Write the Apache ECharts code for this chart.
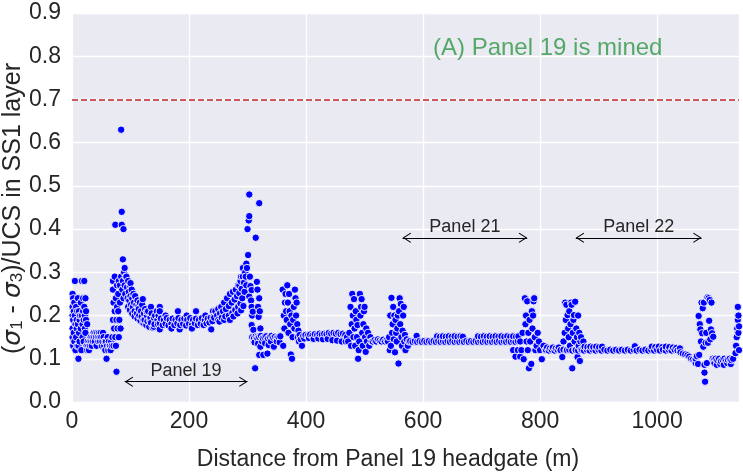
<!DOCTYPE html>
<html>
<head>
<meta charset="utf-8">
<script src="https://cdn.jsdelivr.net/npm/echarts@6/dist/echarts.min.js"></script>
<style>
  html, body { margin: 0; padding: 0; background: #ffffff; }
  #chart { width: 743px; height: 476px; }
</style>
</head>
<body>
<div id="chart"></div>
<script>
// Stress ratio (sigma1 - sigma3)/UCS in the SS1 layer versus distance from the
// Panel 19 headgate, stored as [distance m, ratio] pairs for each stretch of the profile.

// 0-68 m: headgate side of Panel 19
const westFlank = [
  [1,0.25],[1,0.22],[1,0.2],[1,0.17],[1,0.15],[2,0.13],
  [2,0.24],[2,0.19],[3,0.21],[3,0.16],[4,0.23],[4,0.14],
  [5,0.28],[5,0.2],[6,0.18],[6,0.12],[7,0.22],[7,0.15],
  [8,0.19],[8,0.17],[9,0.21],[9,0.13],[10,0.24],[10,0.18],
  [11,0.1],[11,0.13],[12,0.21],[12,0.16],[13,0.19],[13,0.14],
  [14,0.2],[15,0.23],[15,0.17],[16,0.12],[17,0.28],[17,0.2],
  [18,0.18],[18,0.15],[19,0.24],[19,0.21],[20,0.19],[20,0.14],
  [21,0.28],[21,0.22],[22,0.17],[22,0.2],[23,0.24],[23,0.16],
  [24,0.21],[24,0.19],[25,0.13],[26,0.18],[26,0.12],
  [27,0.14],[28,0.13],[29,0.12],[30,0.14],[31,0.13],[32,0.15],[33,0.14],[34,0.13],
  [35,0.15],[36,0.14],[37,0.16],[38,0.15],[39,0.14],[40,0.16],[41,0.15],[42,0.13],
  [43,0.16],[44,0.15],[45,0.14],[46,0.16],[47,0.15],[48,0.14],[49,0.16],[50,0.15],
  [51,0.13],[52,0.14],[53,0.16],[54,0.15],[55,0.13],[56,0.14],[57,0.12],[58,0.14],
  [59,0.1],[60,0.13],[61,0.15],[62,0.12],[63,0.14],[64,0.13],[65,0.13],[66,0.12],
  [67,0.14],[68,0.13]
];

// 69-92 m: abutment peak at the start of Panel 19
const startPeak = [
  [69,0.15],[70,0.28],[70,0.26],[70,0.19],[71,0.23],[71,0.13],[72,0.17],[73,0.29],
  [73,0.21],[74,0.41],[74,0.15],[75,0.24],[75,0.13],[76,0.07],[76,0.19],[77,0.27],
  [77,0.22],[78,0.17],[79,0.25],[79,0.21],[80,0.15],[80,0.28],[81,0.19],[82,0.27],
  [82,0.23],[83,0.17],[84,0.63],[84,0.29],[85,0.44],[85,0.41],[86,0.26],[87,0.33],
  [87,0.28],[88,0.4],[88,0.24],[89,0.3],[90,0.31],[90,0.27],[91,0.25],[92,0.29]
];

// 93-150 m: relaxation behind the first abutment
const panel19Decay = [
  [93,0.29],[96,0.28],[99,0.27],[102,0.26],[105,0.25],[108,0.245],[112,0.235],[116,0.23],
  [120,0.225],[125,0.215],[130,0.21],[136,0.205],[142,0.2],[148,0.2],
  [94,0.265],[97,0.255],[100,0.245],[103,0.24],[106,0.23],[110,0.225],[114,0.215],[118,0.21],
  [123,0.205],[128,0.2],[134,0.195],[140,0.195],[146,0.19],
  [95,0.24],[98,0.235],[101,0.225],[104,0.22],[107,0.21],[111,0.205],[115,0.2],[119,0.197],
  [124,0.19],[129,0.187],[135,0.183],[141,0.18],[147,0.18],
  [96,0.22],[99,0.213],[103,0.205],[107,0.198],[112,0.193],[117,0.188],[122,0.183],[127,0.178],
  [132,0.174],[138,0.172],
  [100,0.275],[113,0.22],[121,0.238],[128,0.209],[135,0.22],[133,0.19],[122,0.19],[140,0.174],
  [145,0.21],[150,0.22]
];

// 150-245 m: mid-panel floor
const panel19Floor = [
  [152,0.193],[157,0.19],[162,0.194],[167,0.19],[172,0.193],[177,0.19],[182,0.194],[187,0.19],
  [192,0.193],[197,0.19],[202,0.194],[207,0.19],[212,0.193],[217,0.19],[222,0.194],[227,0.19],
  [232,0.193],[237,0.195],[242,0.198],
  [150,0.182],[155,0.178],[160,0.181],[165,0.177],[170,0.181],[175,0.178],[180,0.182],[185,0.178],
  [190,0.181],[195,0.177],[200,0.181],[205,0.178],[210,0.182],[215,0.178],[220,0.181],[225,0.178],
  [230,0.182],[235,0.184],[240,0.187],
  [150,0.21],[181,0.21],[212,0.21],[241,0.21],[150,0.168],[184,0.168],[238,0.168],
  [160,0.2],[196,0.2],[228,0.2],[170,0.17],[205,0.17]
];

// 243-299 m: build-up towards the tailgate abutment
const panel19Rise = [
  [245,0.21],[250,0.215],[255,0.22],[260,0.23],[265,0.24],[270,0.25],[275,0.255],[280,0.26],
  [284,0.27],[288,0.28],[292,0.29],[296,0.3],[299,0.31],
  [248,0.2],[253,0.205],[258,0.21],[263,0.215],[268,0.222],[273,0.23],[278,0.237],[282,0.245],
  [286,0.252],[290,0.262],[294,0.276],[297,0.29],
  [250,0.19],[256,0.195],[262,0.198],[268,0.2],[274,0.206],[279,0.213],[284,0.22],[288,0.228],
  [291,0.24],[295,0.255],[298,0.27],
  [243,0.195],[252,0.186],[260,0.19],[270,0.19],[276,0.198],[283,0.205],[289,0.212],[293,0.222],
  [286,0.27],[289,0.29],[292,0.31]
];

// 298-322 m: abutment peak at the end of Panel 19
const endPeak = [
  [298,0.32],[300,0.4],[301,0.34],[302,0.42],[303,0.48],[303,0.43],[303,0.244],[304,0.29],
  [305,0.268],[306,0.235],[307,0.259],[307,0.22],[307,0.178],[308,0.2],[309,0.209],[310,0.167],
  [311,0.14],[313,0.078],[314,0.38],[316,0.278],[317,0.26],[317,0.151],[318,0.22],[319,0.197],
  [320,0.46],[320,0.24],[321,0.21],[322,0.17]
];

// 307-358 m: pillar between Panel 19 and Panel 20
const pillarBandA = [
  [308,0.15],[311,0.148],[314,0.152],[317,0.147],[320,0.15],[323,0.153],[326,0.148],[329,0.15],
  [332,0.152],[335,0.147],[338,0.15],[341,0.153],[344,0.149],[347,0.151],[350,0.148],[353,0.15],
  [356,0.152],
  [312,0.138],[318,0.135],[322,0.128],[325,0.14],[330,0.136],[336,0.132],[340,0.14],[345,0.128],
  [350,0.14],[355,0.138],
  [320,0.109],[327,0.109],[334,0.112]
];

// 358-393 m
const cluster370 = [
  [360,0.26],[361,0.13],[362,0.2],[363,0.17],[364,0.23],[365,0.25],[366,0.21],[367,0.19],
  [368,0.27],[369,0.23],[370,0.16],[371,0.25],[372,0.21],[373,0.18],[374,0.11],[375,0.2],
  [376,0.1],[377,0.15],[378,0.19],[379,0.22],[380,0.17],[381,0.26],[382,0.24],[383,0.2],
  [384,0.23],[385,0.18],[386,0.15],[387,0.165],[388,0.14],[389,0.155],[391,0.145],[393,0.13]
];

// 393-470 m
const pillarBandB = [
  [395,0.152],[399,0.155],[403,0.153],[407,0.156],[411,0.154],[415,0.157],[419,0.155],[423,0.158],
  [427,0.156],[431,0.158],[435,0.157],[439,0.16],[443,0.158],[447,0.16],[451,0.158],[455,0.16],
  [459,0.157],[463,0.158],[467,0.155],
  [397,0.147],[405,0.148],[413,0.146],[421,0.147],[429,0.145],[437,0.146],[445,0.143],[453,0.142],
  [461,0.14],[468,0.14]
];

// 470-512 m
const cluster490 = [
  [470,0.15],[472,0.14],[474,0.16],[476,0.22],[477,0.13],[478,0.18],[479,0.25],[480,0.2],
  [481,0.15],[482,0.238],[483,0.17],[484,0.13],[485,0.21],[486,0.19],[487,0.15],[488,0.178],
  [489,0.1],[490,0.12],[491,0.14],[492,0.25],[493,0.2],[494,0.22],[495,0.238],[496,0.16],
  [497,0.13],[498,0.18],[499,0.21],[500,0.22],[501,0.15],[502,0.116],[503,0.17],[504,0.14],
  [506,0.16],[508,0.13],[510,0.15],[512,0.14]
];

// 514-538 m
const pillarBandC = [
  [514,0.14],[517,0.143],[520,0.14],[523,0.145],[526,0.142],[529,0.14],[532,0.144],[535,0.14],
  [538,0.143]
];

// 540-576 m
const cluster555 = [
  [540,0.14],[542,0.15],[543,0.12],[544,0.2],[545,0.13],[546,0.241],[547,0.16],[548,0.18],
  [549,0.22],[550,0.145],[551,0.2],[552,0.115],[553,0.19],[554,0.16],[555,0.14],[556,0.17],
  [557,0.2],[558,0.089],[559,0.21],[560,0.24],[561,0.18],[562,0.227],[563,0.15],[564,0.13],
  [565,0.165],[566,0.2],[567,0.22],[568,0.14],[569,0.155],[570,0.12],[572,0.145],[574,0.13],
  [576,0.14]
];

// 578-766 m: beneath Panel 21
const panel21Band = [
  [578,0.141],[582,0.139],[586,0.141],[590,0.139],[594,0.141],[598,0.139],[602,0.141],[606,0.139],
  [610,0.141],[614,0.139],[618,0.141],[622,0.139],[626,0.141],[630,0.139],[634,0.141],[638,0.139],
  [642,0.141],[646,0.139],[650,0.141],[654,0.139],[658,0.141],[662,0.139],[666,0.141],[670,0.139],
  [674,0.141],[678,0.139],[682,0.141],[686,0.139],[690,0.141],[694,0.139],[698,0.141],[702,0.139],
  [706,0.141],[710,0.139],[714,0.141],[718,0.139],[722,0.141],[726,0.139],[730,0.141],[734,0.139],
  [738,0.141],[742,0.139],[746,0.141],[750,0.139],[754,0.141],[758,0.139],[762,0.141],
  [589,0.153],[624,0.152],[629,0.151],[634,0.152],[639,0.151],[644,0.152],[649,0.151],[654,0.152],
  [659,0.151],[664,0.152],[668,0.151],[694,0.152],[699,0.151],[704,0.152],[709,0.151],[714,0.152],
  [719,0.151],[724,0.152],[729,0.151],[734,0.152],[739,0.151],[744,0.152],[749,0.151],[754,0.152],
  [759,0.151],[763,0.152]
];

// 766-809 m
const cluster785 = [
  [766,0.14],[768,0.12],[770,0.16],[772,0.099],[774,0.24],[775,0.18],[776,0.2],[777,0.14],
  [778,0.233],[779,0.12],[780,0.16],[781,0.078],[782,0.19],[783,0.14],[785,0.088],[786,0.21],
  [787,0.17],[788,0.2],[789,0.233],[790,0.24],[791,0.15],[792,0.12],[794,0.13],[796,0.16],
  [798,0.14],[800,0.12],[803,0.099],[806,0.13],[809,0.12]
];

// 754-1039 m: lower band beneath Panel 22
const panel22Band = [
  [754,0.12],[758,0.105],[762,0.12],[766,0.105],
  [810,0.121],[815,0.119],[820,0.121],[825,0.119],[830,0.121],[835,0.119],[840,0.121],[845,0.119],
  [850,0.121],[855,0.119],[860,0.121],[865,0.119],[870,0.121],[875,0.119],[880,0.121],[885,0.119],
  [890,0.121],[895,0.119],[900,0.121],[905,0.119],[910,0.121],[915,0.119],[920,0.121],[925,0.119],
  [930,0.121],[935,0.119],[940,0.121],[945,0.119],[950,0.121],[955,0.119],[960,0.121],[965,0.119],
  [970,0.121],[975,0.119],[980,0.121],[985,0.119],[990,0.121],[995,0.119],[1000,0.121],[1005,0.119],
  [1010,0.121],[1015,0.119],[1020,0.121],[1025,0.119],[1030,0.121],[1035,0.119],[1039,0.118],
  [812,0.126],[817,0.124],[822,0.126],[827,0.124],[832,0.126],
  [876,0.128],[881,0.127],[886,0.128],[891,0.127],[896,0.128],[901,0.127],[906,0.128],
  [962,0.129],
  [991,0.128],[997,0.127],[1003,0.128],[1009,0.127],[1015,0.128],[1021,0.127],[1027,0.126],
  [1033,0.125],[1039,0.124]
];

// 835-874 m
const cluster855 = [
  [835,0.12],[838,0.104],[840,0.14],[842,0.16],[843,0.23],[844,0.19],[845,0.225],[846,0.12],
  [847,0.201],[848,0.17],[849,0.15],[850,0.21],[851,0.13],[852,0.18],[853,0.23],[854,0.225],
  [855,0.078],[856,0.16],[857,0.19],[858,0.201],[859,0.14],[860,0.232],[861,0.12],[862,0.17],
  [863,0.15],[864,0.104],[865,0.2],[866,0.13],[867,0.16],[868,0.095],[869,0.14],[870,0.15],
  [872,0.12],[874,0.14]
];

// 1040-1066 m
const panel22Decline = [
  [1040,0.115],[1044,0.112],[1048,0.11],[1052,0.108],[1055,0.105],[1058,0.1],[1061,0.098],
  [1064,0.095],[1066,0.09]
];

// 1066-1098 m
const cluster1085 = [
  [1066,0.1],[1068,0.106],[1070,0.088],[1071,0.199],[1072,0.109],[1073,0.18],[1074,0.168],
  [1075,0.14],[1076,0.23],[1077,0.159],[1078,0.217],[1079,0.128],[1080,0.23],[1081,0.086],
  [1081,0.068],[1082,0.047],[1083,0.137],[1084,0.16],[1085,0.09],[1086,0.242],[1087,0.137],
  [1088,0.24],[1089,0.188],[1090,0.236],[1091,0.145],[1092,0.168],[1093,0.23],[1094,0.159],
  [1095,0.1],[1096,0.151],[1097,0.097],[1098,0.09]
];

// 1100-1140 m
const eastEnd = [
  [1100,0.1],[1103,0.097],[1106,0.1],[1109,0.095],[1112,0.098],[1115,0.1],[1118,0.096],
  [1121,0.098],[1124,0.1],[1127,0.097],[1130,0.1],
  [1102,0.086],[1108,0.088],[1114,0.086],[1120,0.09],[1126,0.088],
  [1134,0.113],[1135,0.13],[1136,0.15],[1137,0.17],[1138,0.19],[1138,0.22],[1139,0.2],
  [1139,0.16],[1140,0.12],[1140,0.175]
];

// Axis ticks and annotations
const xTicks = [0, 200, 400, 600, 800, 1000];
const xMax = 1140;
const yTicks = [0, 0.1, 0.2, 0.3, 0.4, 0.5, 0.6, 0.7, 0.8, 0.9];
const thresholdRatio = 0.7;
const panelSpans = [
  { name: 'Panel 19', from: 90, to: 300, level: 0.047 },
  { name: 'Panel 21', from: 565, to: 778, level: 0.38 },
  { name: 'Panel 22', from: 861, to: 1076, level: 0.38 }
];
const stageNote = { text: '(A) Panel 19 is mined', at: [617, 0.818] };

const samples = [].concat(
  westFlank, startPeak, panel19Decay, panel19Floor, panel19Rise, endPeak,
  pillarBandA, cluster370, pillarBandB, cluster490, pillarBandC, cluster555,
  panel21Band, cluster785, panel22Band, cluster855, panel22Decline, cluster1085, eastEnd
).sort((a, b) => a[0] - b[0]);

const FONT = '"Liberation Sans", Arial, Helvetica, sans-serif';
const INK = '#262626';

// Open double-headed arrow tip, pointing up; the empty point above the tip
// centres the symbol on the tip so the head ends exactly at the span end.
const ARROW_HEAD = 'path://M5,-8.6 L5.01,-8.6 L5,-8.59 Z M5,0 L10,8 L9.2,8.6 L5,1.9 L0.8,8.6 L0,8 Z';

const chart = echarts.init(document.getElementById('chart'), null, { renderer: 'canvas' });

chart.setOption({
  animation: false,
  backgroundColor: '#ffffff',
  textStyle: { fontFamily: FONT },
  grid: {
    left: 72, right: 4, top: 13, bottom: 74,
    show: true, backgroundColor: '#EAEAF2', borderWidth: 0,
    containLabel: false, outerBoundsMode: 'none'
  },
  xAxis: {
    type: 'value', min: 0, max: xMax, interval: 200,
    axisLine: { show: false }, axisTick: { show: false },
    splitLine: { show: true, lineStyle: { color: '#ffffff', width: 1.3 } },
    axisLabel: {
      fontSize: 23, color: INK, margin: 8, fontFamily: FONT,
      formatter: v => (xTicks.indexOf(v) >= 0 ? String(v) : '')
    },
    name: 'Distance from Panel 19 headgate (m)',
    nameLocation: 'middle', nameGap: 46, nameMoveOverlap: false,
    nameTextStyle: { fontSize: 23, color: INK, fontFamily: FONT, padding: [0, 35, 0, 0] }
  },
  yAxis: {
    type: 'value', min: yTicks[0], max: yTicks[yTicks.length - 1], interval: 0.1,
    axisLine: { show: false }, axisTick: { show: false },
    splitLine: { show: true, lineStyle: { color: '#ffffff', width: 1.3 } },
    axisLabel: {
      fontSize: 23, color: INK, margin: 11, fontFamily: FONT,
      formatter: v => v.toFixed(1)
    },
    name: '({sg|σ}{sb|1} - {sg|σ}{sb|3})/UCS in SS1 layer',
    nameLocation: 'middle', nameGap: 46, nameMoveOverlap: false,
    nameTextStyle: {
      fontSize: 25, color: INK, fontFamily: FONT, padding: [0, 2, 0, 0],
      rich: {
        sg: { fontSize: 25, color: INK, fontFamily: 'DejaVu Sans', fontStyle: 'italic' },
        sb: { fontSize: 17, color: INK, fontFamily: FONT, verticalAlign: 'bottom' }
      }
    }
  },
  series: [
    {
      name: 'stress ratio',
      type: 'scatter',
      data: samples,
      symbol: 'circle',
      symbolSize: 7.4,
      itemStyle: { color: '#0000FF', borderColor: '#ffffff', borderWidth: 0.9, opacity: 1 },
      emphasis: { disabled: true },
      silent: true,
      z: 3
    },
    {
      name: 'threshold',
      type: 'scatter',
      data: [],
      silent: true,
      markLine: {
        silent: true,
        symbol: ['none', 'none'],
        label: { show: false },
        lineStyle: { color: '#CC5A5C', width: 2, type: [6, 3], opacity: 1 },
        emphasis: { disabled: true },
        data: [{ yAxis: thresholdRatio }]
      },
      markPoint: {
        silent: true,
        symbol: 'circle',
        symbolSize: 0,
        itemStyle: { color: 'rgba(0,0,0,0)' },
        label: {
          show: true, position: 'right', distance: 0,
          color: '#55A868', fontSize: 24, fontFamily: FONT,
          formatter: () => stageNote.text
        },
        data: [{ coord: stageNote.at }]
      }
    },
    {
      name: 'panels',
      type: 'scatter',
      data: [],
      silent: true,
      markLine: {
        silent: true,
        symbol: [ARROW_HEAD, ARROW_HEAD],
        symbolSize: [10, 17],
        lineStyle: { color: '#000000', width: 1.2, type: 'solid', opacity: 1 },
        itemStyle: { color: '#000000' },
        emphasis: { disabled: true },
        label: {
          show: true, position: 'middle', distance: 2,
          color: INK, fontSize: 18, fontFamily: FONT,
          formatter: p => p.name
        },
        data: panelSpans.map(s => [
          { name: s.name, coord: [s.from, s.level] },
          { coord: [s.to, s.level] }
        ])
      }
    }
  ]
});
</script>
</body>
</html>
